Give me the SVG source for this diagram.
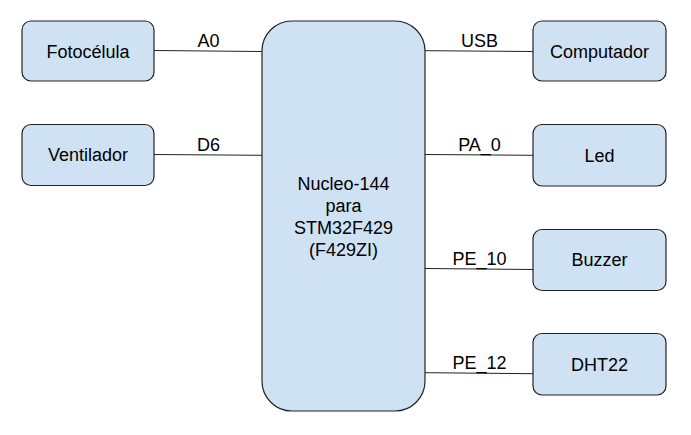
<svg xmlns="http://www.w3.org/2000/svg" width="691" height="435" viewBox="0 0 691 435">
<style>
.box{fill:#cfe2f3;stroke:#222;stroke-width:1.2}
.t{font-family:"Liberation Sans",Arial,sans-serif;font-size:18px;fill:#000;text-anchor:middle}
.c{stroke:#222;stroke-width:1;fill:none}
</style>
<rect width="691" height="435" fill="#fff"/>
<g id="connectors">
<line class="c" x1="154" y1="50.5" x2="262" y2="51.5"/>
<line class="c" x1="154" y1="154.5" x2="262" y2="155.3"/>
<line class="c" x1="425" y1="50.7" x2="533" y2="51.5"/>
<line class="c" x1="425" y1="154.5" x2="533" y2="155.3"/>
<line class="c" x1="425" y1="268.5" x2="533" y2="269.5"/>
<line class="c" x1="425" y1="372.7" x2="533" y2="373.7"/>
<text class="t" x="208.5" y="47">A0</text>
<text class="t" x="208.5" y="151">D6</text>
<text class="t" x="479.5" y="47">USB</text>
<text class="t" x="479.5" y="151">PA_0</text>
<text class="t" x="479.5" y="264.5">PE_10</text>
<text class="t" x="479.5" y="368.5">PE_12</text>
</g>
<g id="fotocelula"><rect class="box" x="22" y="21" width="132" height="60" rx="9"/><text class="t" x="88" y="57.5">Fotocélula</text></g>
<g id="ventilador"><rect class="box" x="22" y="124.5" width="132" height="61" rx="9"/><text class="t" x="88" y="161">Ventilador</text></g>
<g id="nucleo"><rect class="box" x="262" y="21" width="163" height="390" rx="30"/>
<text class="t" x="343.5" y="189.5">Nucleo-144</text>
<text class="t" x="343.5" y="211.5">para</text>
<text class="t" x="343.5" y="233.5">STM32F429</text>
<text class="t" x="343.5" y="255.5">(F429ZI)</text></g>
<g id="computador"><rect class="box" x="533" y="21" width="133" height="60" rx="9"/><text class="t" x="599.5" y="57.5">Computador</text></g>
<g id="led"><rect class="box" x="533" y="124.5" width="133" height="61.5" rx="9"/><text class="t" x="599.5" y="161.5">Led</text></g>
<g id="buzzer"><rect class="box" x="533" y="229.5" width="133" height="61" rx="9"/><text class="t" x="599.5" y="266">Buzzer</text></g>
<g id="dht22"><rect class="box" x="533" y="333.5" width="133" height="61.5" rx="9"/><text class="t" x="599.5" y="370.5">DHT22</text></g>
</svg>
